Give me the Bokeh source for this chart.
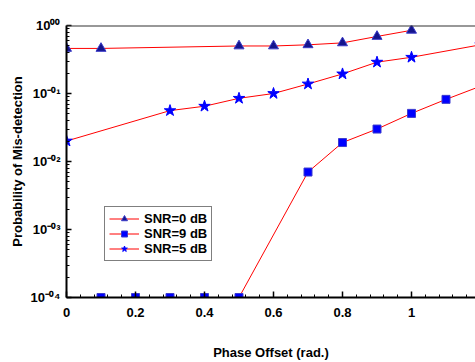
from bokeh.plotting import figure
from bokeh.models import (FixedTicker, NumeralTickFormatter, CustomJSTickFormatter, Span,
                          Legend, LegendItem)
from bokeh.embed import file_html
from bokeh.resources import INLINE

# ---- data ----
x_snr0 = [0.0, 0.1, 0.5, 0.6, 0.7, 0.8, 0.9, 1.0]
y_snr0 = [0.46, 0.46, 0.50, 0.50, 0.52, 0.555, 0.69, 0.85]

x_snr9 = [0.1, 0.2, 0.3, 0.4, 0.5, 0.7, 0.8, 0.9, 1.0, 1.1, 1.2]
y_snr9 = [1e-4, 1e-4, 1e-4, 1e-4, 1e-4, 0.0070, 0.019, 0.030, 0.051, 0.082, 0.128]

x_snr5 = [0.0, 0.3, 0.4, 0.5, 0.6, 0.7, 0.8, 0.9, 1.0, 1.2]
y_snr5 = [0.020, 0.056, 0.065, 0.085, 0.10, 0.138, 0.194, 0.289, 0.341, 0.52]

x_ticks = [0, 0.2, 0.4, 0.6, 0.8, 1.0]
y_decades = [-4, -3, -2, -1, 0]
y_tick_labels = ["10\u207b\u2070\u2074", "10\u207b\u2070\u00b3", "10\u207b\u2070\u00b2",
                 "10\u207b\u2070\u00b9", "10\u2070\u2070"]

FONT = "Liberation Sans"

p = figure(width=475, height=362, output_backend="svg", toolbar_location=None,
           x_range=(0, 1.1855), y_range=(1e-4, 1.0), y_axis_type="log",
           min_border_left=66, min_border_right=0, min_border_top=25, min_border_bottom=60)
p.outline_line_color = None
p.grid.visible = False
p.background_fill_color = "white"
p.border_fill_color = "white"

# x axis
xa = p.xaxis[0]
minor_x = [round(i * 0.04, 4) for i in range(0, 31) if i % 5 != 0]
xa.ticker = FixedTicker(ticks=x_ticks, minor_ticks=minor_x)
xa.formatter = NumeralTickFormatter(format="0.[0]")
xa.major_tick_in = 6
xa.major_tick_out = 0
xa.minor_tick_in = 3
xa.minor_tick_out = 0
xa.axis_line_width = 2
xa.axis_line_color = "black"
xa.major_tick_line_width = 1.5
xa.major_label_text_font = FONT
xa.major_label_text_font_style = "bold"
xa.major_label_text_font_size = "13px"
xa.major_label_text_color = "black"
xa.major_label_standoff = 10
xa.axis_label = "Phase Offset (rad.)"
xa.axis_label_text_font = FONT
xa.axis_label_text_font_style = "bold"
xa.axis_label_text_font_size = "13px"
xa.axis_label_text_color = "black"
xa.axis_label_standoff = 25

# y axis
ya = p.yaxis[0]
minor_y = [k * 10.0 ** d for d in range(-4, 0) for k in range(2, 10)]
ya.ticker = FixedTicker(ticks=[10.0 ** d for d in y_decades], minor_ticks=minor_y)
ya.formatter = CustomJSTickFormatter(
    args=dict(decs=y_decades, labs=y_tick_labels),
    code="const e = Math.round(Math.log10(tick)); const i = decs.indexOf(e); return i >= 0 ? labs[i] : '';")
ya.major_tick_in = 5
ya.major_tick_out = 0
ya.minor_tick_in = 3
ya.minor_tick_out = 0
ya.axis_line_width = 2
ya.axis_line_color = "black"
ya.major_tick_line_width = 1.5
ya.major_label_text_font = FONT
ya.major_label_text_font_style = "bold"
ya.major_label_text_font_size = "13px"
ya.major_label_text_color = "black"
ya.major_label_standoff = 6
ya.axis_label = "Probability of Mis-detection"
ya.axis_label_text_font = FONT
ya.axis_label_text_font_style = "bold"
ya.axis_label_text_font_size = "13px"
ya.axis_label_text_color = "black"
ya.axis_label_standoff = 3

p.add_layout(Span(location=1.0, dimension="width", line_color="#333333", line_width=2))

# series
l0 = p.line(x_snr0, y_snr0, line_color="red", line_width=1)
m0 = p.scatter(x_snr0, y_snr0, marker="triangle", size=10, fill_color="#14148c",
               line_color="#3a3ac8", line_width=1)
l9 = p.line(x_snr9, y_snr9, line_color="red", line_width=1)
m9 = p.scatter(x_snr9, y_snr9, marker="square", size=8, fill_color="#0000ff",
               line_color="#3b3bd0", line_width=1)
l5 = p.line(x_snr5, y_snr5, line_color="red", line_width=1)
m5 = p.scatter(x_snr5, y_snr5, marker="star", size=12, fill_color="#0000ff",
               line_color="#0000ff", line_width=1)

legend = Legend(items=[
    LegendItem(label="SNR=0 dB", renderers=[l0, m0]),
    LegendItem(label="SNR=9 dB", renderers=[l9, m9]),
    LegendItem(label="SNR=5 dB", renderers=[l5, m5]),
], location=(38, 36))
legend.border_line_color = "black"
legend.border_line_width = 1
legend.background_fill_color = "white"
legend.background_fill_alpha = 1
legend.label_text_font = FONT
legend.label_text_font_style = "bold"
legend.label_text_font_size = "13px"
legend.label_text_color = "black"
legend.glyph_width = 30
legend.glyph_height = 15
legend.label_height = 15
legend.label_standoff = 5
legend.padding = 4
legend.spacing = 0
legend.margin = 0
p.add_layout(legend)

open("out.html", "w").write(file_html(p, INLINE))
